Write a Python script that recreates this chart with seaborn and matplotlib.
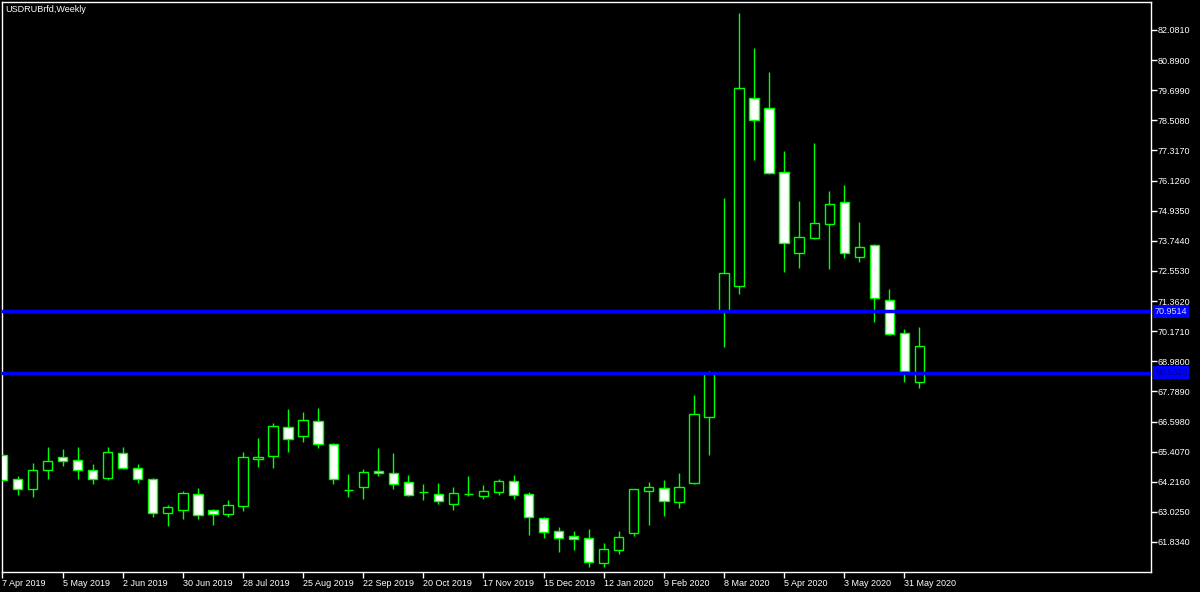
import matplotlib
matplotlib.use("Agg")
import matplotlib.pyplot as plt
import matplotlib.transforms as mtransforms
import numpy as np
import pandas as pd
import seaborn as sns

TITLE = "USDRUBrfd,Weekly"

# weekly OHLC, one bar per week starting 7 Apr 2019
opens = [65.274, 64.313, 63.929, 64.681, 65.207, 65.065, 64.681, 64.376, 65.353, 64.748,
         64.313, 62.969, 63.087, 63.720, 63.087, 62.929, 63.257, 65.104, 65.223, 66.370,
         66.037, 66.631, 65.709, 63.890, 63.997, 64.653, 64.574, 64.194, 63.823, 63.720,
         63.336, 63.720, 63.665, 63.811, 64.246, 63.720, 62.795, 62.269, 62.059, 61.980,
         60.991, 61.505, 62.178, 63.862, 63.981, 63.404, 64.155, 66.789, 70.969, 71.969,
         79.380, 78.984, 76.453, 73.274, 73.867, 74.397, 75.291, 73.116, 73.578, 71.392,
         70.087, 68.173]
highs = [65.393, 64.444, 64.946, 65.602, 65.511, 65.602, 64.918, 65.602, 65.602, 64.918,
         64.376, 63.285, 63.850, 63.957, 63.127, 63.494, 65.405, 65.946, 66.551, 67.081,
         66.974, 67.121, 65.737, 64.511, 64.708, 65.551, 65.341, 64.483, 64.127, 64.179,
         64.021, 64.444, 64.088, 64.325, 64.471, 63.799, 62.834, 62.427, 62.269, 62.348,
         61.806, 62.269, 63.929, 64.206, 64.285, 64.550, 67.647, 68.576, 75.449, 82.741,
         81.357, 80.432, 77.296, 75.307, 77.600, 75.714, 75.939, 74.488, 73.620, 71.838,
         70.245, 70.348]
lows = [64.167, 63.692, 63.625, 64.313, 64.851, 64.325, 64.115, 64.285, 64.709, 64.179,
        62.810, 62.478, 62.731, 62.731, 62.518, 62.810, 63.071, 64.811, 64.748, 65.405,
        65.788, 65.563, 64.115, 63.625, 63.534, 64.444, 63.941, 63.653, 63.494, 63.324,
        63.099, 63.653, 63.534, 63.692, 63.534, 62.099, 61.992, 61.450, 61.529, 60.833,
        60.833, 61.359, 62.083, 62.518, 62.874, 63.190, 64.127, 65.274, 69.533, 71.629,
        76.952, 76.374, 72.523, 72.681, 73.816, 72.610, 73.076, 72.918, 70.545, 70.020,
        68.173, 67.936]
closes = [64.285, 63.929, 64.681, 65.025, 65.025, 64.681, 64.337, 65.393, 64.748, 64.313,
          62.969, 63.229, 63.759, 62.890, 62.929, 63.309, 65.183, 65.207, 66.409, 65.907,
          66.658, 65.721, 64.313, 63.890, 64.614, 64.562, 64.115, 63.680, 63.823, 63.443,
          63.759, 63.720, 63.839, 64.246, 63.704, 62.834, 62.241, 61.992, 61.952, 61.031,
          61.557, 62.019, 63.918, 64.009, 63.443, 64.021, 66.895, 68.536, 72.459, 79.799,
          78.522, 76.438, 73.646, 73.883, 74.437, 75.188, 73.274, 73.511, 71.494, 70.071,
          68.596, 69.573]

date_labels = ["7 Apr 2019", "5 May 2019", "2 Jun 2019", "30 Jun 2019", "28 Jul 2019",
               "25 Aug 2019", "22 Sep 2019", "20 Oct 2019", "17 Nov 2019", "15 Dec 2019",
               "12 Jan 2020", "9 Feb 2020", "8 Mar 2020", "5 Apr 2020", "3 May 2020",
               "31 May 2020"]
price_ticks = [82.0810, 80.8900, 79.6990, 78.5080, 77.3170, 76.1260, 74.9350, 73.7440,
               72.5530, 71.3620, 70.1710, 68.9800, 67.7890, 66.5980, 65.4070, 64.2160,
               63.0250, 61.8340]
level_prices = [70.9514, 68.5325]
level_text_colors = ["#d8d8ff", "#000080"]

sns.set_theme(style="dark", rc={
    "axes.facecolor": "black",
    "figure.facecolor": "black",
    "axes.edgecolor": "white",
    "axes.grid": False,
})
plt.rcParams["font.family"] = ["Liberation Sans", "DejaVu Sans"]

df = pd.DataFrame({"open": opens, "high": highs, "low": lows, "close": closes})
df["x"] = np.arange(len(df))
df["bottom"] = df[["open", "close"]].min(axis=1)
df["height"] = (df["close"] - df["open"]).abs()
df["fill"] = np.where(df["close"] >= df["open"], "black", "white")

fig = plt.figure(figsize=(12, 5.92), dpi=100)
ax = fig.add_axes([2 / 1200, 20 / 592, 1149 / 1200, 570 / 592])

green = "#00ff00"
ax.vlines(df["x"], df["low"], df["high"], color=green, lw=1, zorder=2)
ax.bar(df["x"], df["height"], bottom=df["bottom"], width=0.62,
       color=df["fill"], edgecolor=green, linewidth=1, zorder=3)

trans = mtransforms.blended_transform_factory(ax.transAxes, ax.transData)
for p, tc in zip(level_prices, level_text_colors):
    ax.axhline(p, color="#0000ff", lw=2.5, zorder=4)
    ax.text(1.0 + 4 / 1149, p, f"{p:.4f}", transform=trans, ha="left", va="center",
            color=tc, fontsize=6.5, clip_on=False, zorder=6,
            bbox=dict(boxstyle="square,pad=0.2", fc="#0000ff", ec="none"))

ax.set_xlim(-0.033, 76.41)
ax.set_ylim(60.647, 83.188)

ax.yaxis.tick_right()
ax.set_yticks(price_ticks)
ax.set_yticklabels([f"{t:.4f}" for t in price_ticks])
ax.set_xticks(df["x"][::4])
ax.set_xticklabels(date_labels, ha="left")
ax.tick_params(axis="both", colors="white", labelcolor="white", length=4, width=1,
               pad=1, labelsize=6.5, direction="out")
ax.tick_params(axis="y", left=False, right=True)
ax.tick_params(axis="x", bottom=True)

for s in ax.spines.values():
    s.set_color("white")
    s.set_linewidth(1)

fig.text(5 / 1200, 1 - 9 / 592, TITLE, color="white", fontsize=6.5, ha="left", va="center")

fig.savefig("out.png", dpi=100, facecolor="black")
